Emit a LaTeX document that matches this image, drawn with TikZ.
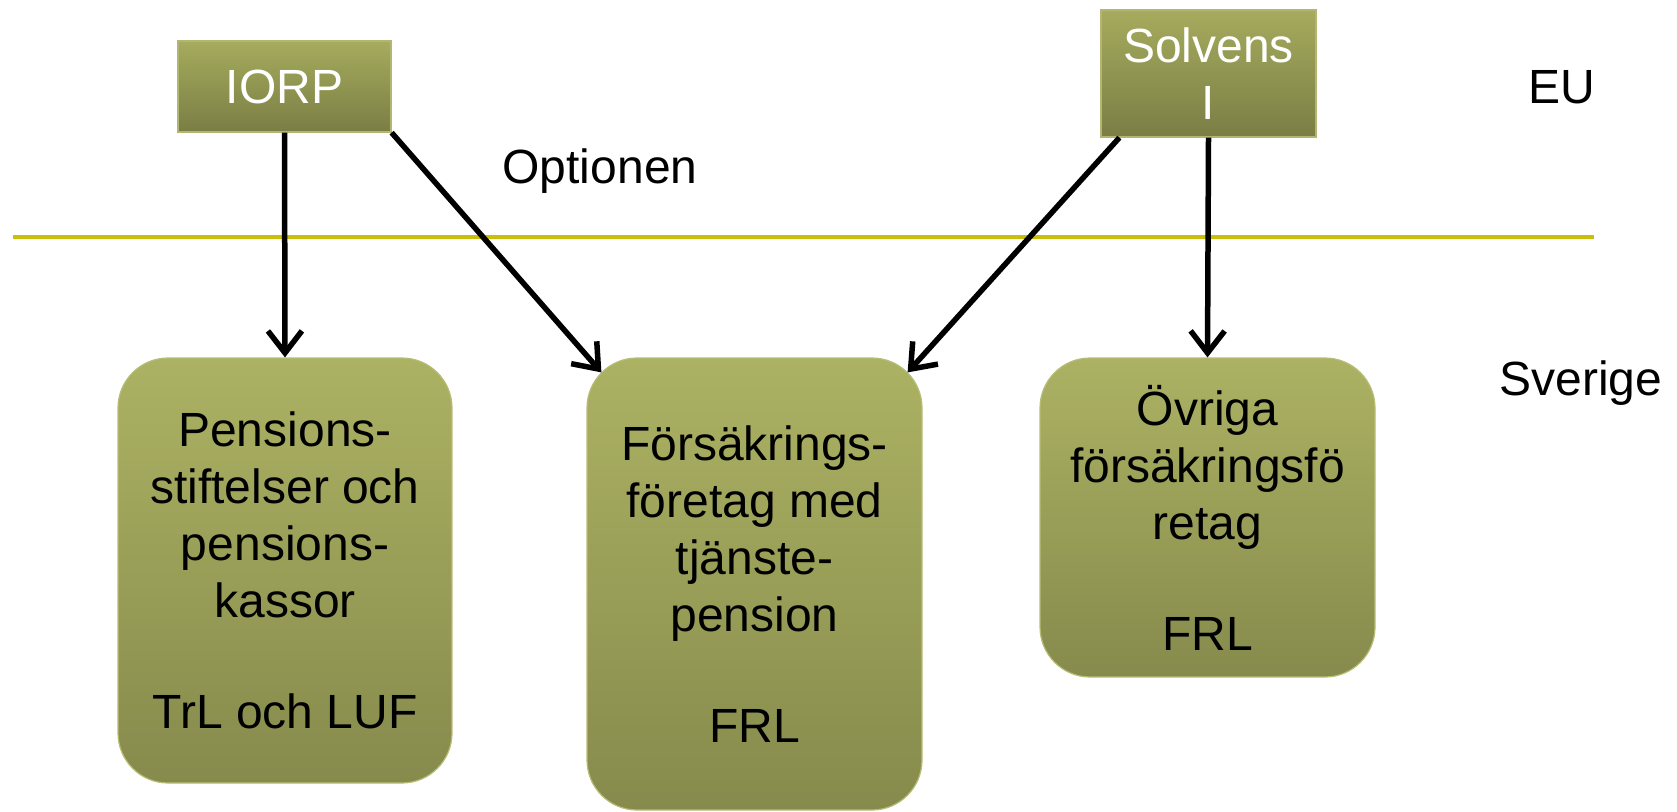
\documentclass[tikz,border=0pt]{standalone}
\usepackage{fontspec}
\setmainfont{Liberation Sans}
\usetikzlibrary{arrows.meta,shadings,calc}
\definecolor{linecol}{RGB}{202,190,10}
\definecolor{smalltop}{RGB}{166,171,94}
\definecolor{smallbot}{RGB}{122,126,68}
\definecolor{smallbord}{RGB}{178,182,112}
\definecolor{bigtop}{RGB}{172,178,99}
\definecolor{bigbot}{RGB}{134,138,76}
\definecolor{bigbord}{RGB}{184,189,118}
\begin{document}
\begin{tikzpicture}[x=1pt,y=-1pt,
  txt/.style={font=\fontsize{48}{57}\selectfont, inner sep=0pt},
  smallbox/.style={txt, text=white, align=center, draw=smallbord, line width=1.2pt,
    top color=smalltop, bottom color=smallbot, inner sep=0pt},
  bigbox/.style={txt, text=black, align=center, draw=bigbord, line width=1.2pt,
    top color=bigtop, bottom color=bigbot, rounded corners=50pt, inner sep=0pt},
  arr/.style={line width=5.5pt, black, -{Straight Barb[length=22pt,width=34pt,line width=5.5pt]}}]
\useasboundingbox (0,0) rectangle (1677,811);
% separator line
\coordinate (la) at (13,237);
\coordinate (lb) at (1594,237);
\draw[linecol, line width=4.5pt] (la) -- (lb);
% EU boxes
\node[smallbox, minimum width=213pt, minimum height=91pt] (iorp) at (284.5,86.5) {IORP};
\node[smallbox, minimum width=215pt, minimum height=127pt] (solv) at (1208.5,73.5) {Solvens\\I};
% Swedish boxes
\node[bigbox, minimum width=334pt, minimum height=425pt] (pens) at (285,570.5)
  {Pensions-\\stiftelser och\\pensions-\\kassor\\[54pt]TrL och LUF};
\node[bigbox, minimum width=335pt, minimum height=452pt] (fors) at (754.5,584)
  {Försäkrings-\\företag med\\tjänste-\\pension\\[54pt]FRL};
\node[bigbox, minimum width=335pt, minimum height=319pt] (ovr) at (1207.5,517.5)
  {Övriga\\försäkringsfö\\retag\\[54pt]FRL};
% labels
\node[txt, anchor=base] (eu) at (1562,103) {EU};
\node[txt, anchor=base] (sve) at (1581,395) {Sverige};
\node[txt, anchor=base] (opt) at (600,183) {Optionen};
% connector end points on rounded corners
\coordinate (fnw) at ($(fors.north west)+(15,15)$);
\coordinate (fne) at ($(fors.north east)+(-15,15)$);
\coordinate (sstart) at ($(solv.south west)+(19,0)$);
% arrows
\draw[arr] (iorp.south) -- (pens.north);
\draw[arr] (iorp.south east) -- (fnw);
\draw[arr] (sstart) -- (fne);
\draw[arr] (solv.south) -- (ovr.north);
\end{tikzpicture}
\end{document}
